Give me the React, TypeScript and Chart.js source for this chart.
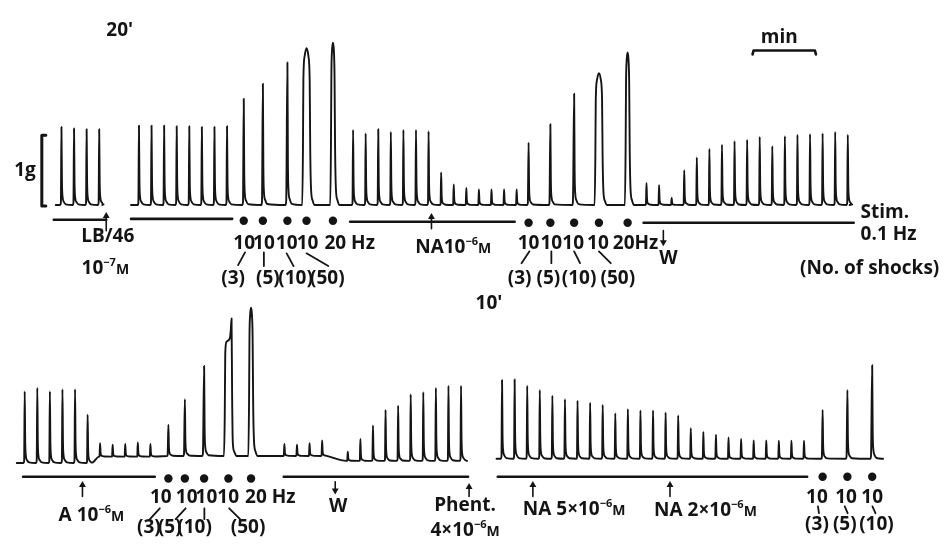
import { useEffect, useRef } from "react";
import { Chart, registerables } from "chart.js";
Chart.register(...registerables);

// ---------------- data: time in s, tension in g ----------------
const PERIOD = 10; // field stimulation 0.1 Hz

// stimulus trains: frequency (Hz) and number of shocks
const STIM_FREQ = [10, 10, 10, 10, 20];
const STIM_SHOCKS = [3, 5, 10, 50, 50];
const STIM_FREQ_SHORT = [10, 10, 10];
const STIM_SHOCKS_SHORT = [3, 5, 10];

// upper record
const TOP_LB_START = 45.5;
const TOP_LB_AMPS = [1.1, 1.08, 1.07, 1.07];
const TOP_CTRL_START = 107.1;
const TOP_CTRL_AMPS = [1.12, 1.12, 1.12, 1.11, 1.11, 1.1, 1.1, 1.11];
const TOP_STIM1_TIMES = [190.4, 205.6, 225.1, 240.3, 261.3];
const TOP_STIM1_AMPS = [1.5, 1.71, 2.01, 2.21, 2.29];
const TOP_NA_START = 277.3;
const TOP_NA_AMPS = [1.06, 1.01, 1.07, 1.03, 1.06, 1.06, 1.04, 0.46, 0.29, 0.24, 0.22, 0.22, 0.22, 0.22];
const TOP_STIM2_TIMES = [416.8, 434.1, 453.0, 472.7, 495.5];
const TOP_STIM2_AMPS = [0.88, 1.14, 1.57, 1.86, 2.15];
const TOP_W_START = 510.5;
const TOP_W_AMPS = [0.31, 0.28, 0.1, 0.49, 0.67, 0.79, 0.85, 0.9, 0.92, 0.96, 0.83, 0.97, 0.99, 1.0, 1.01, 1.03, 0.99];

// lower left record
const BL_CTRL_START = 16.3;
const BL_CTRL_AMPS = [1.01, 1.06, 1.01, 1.04, 1.04, 0.68];
const BL_A_START = 76.2;
const BL_A_AMPS = [0.19, 0.17, 0.18, 0.2, 0.18];
const BL_STIM_TIMES = [130.5, 143.6, 158.9, 180.7, 196.2];
const BL_STIM_AMPS = [0.44, 0.8, 1.27, 1.94, 2.09];
const BL_STIM_SHOULDER = [0, 0, 0, 1.61, 0];
const BL_PREW_START = 222.7;
const BL_PREW_AMPS = [0.17, 0.16, 0.18, 0.22];
const BL_W_START = 273.1;
const BL_W_AMPS = [0.13, 0.31, 0.5, 0.72, 0.78, 0.94, 0.97, 1.03, 1.06, 1.06];
// baseline level of each part: ctrl, A, stim, pre-W, W
const BL_BASELINES = [0, 0.09, 0.1, 0.1, 0.03];

// lower right record
const BR_NA_START = 395.7;
const BR_NA_AMPS = [1.11, 1.12, 1.03, 0.97, 0.89, 0.84, 0.82, 0.79, 0.76, 0.64, 0.7, 0.68, 0.68, 0.65, 0.61, 0.43, 0.38, 0.34, 0.3, 0.28, 0.26, 0.26, 0.255, 0.255, 0.255];
const BR_STIM_TIMES = [650.5, 670.2, 689.9];
const BR_STIM_AMPS = [0.69, 0.97, 1.32];
const BR_BASELINE = 0.06;

// record extents (s)
const TOP_SEG1 = [41, 78];
const TOP_SEG2 = [100.8, 672];
const BL_SEG = [10, 367.9];
const BR_SEG = [391.3, 698.6];

// ---------------- layout ----------------
const W = 952;
const H = 545;
const X_MAX = 750;
const Y_MIN = -1.0972;
const Y_MAX = 6.4722;
const TOP_ROW = 3.64;
const INK = "#141414";
const FONT = '"Open Sans", "DejaVu Sans", sans-serif';

type Pt = { x: number; y: number | null };
type Ev = { t: number; a: number; d: number; b: number; sh: number };

function train(start: number, amps: number[], base: number): Ev[] {
  return amps.map((a, i) => ({ t: start + i * PERIOD, a, d: 0, b: base, sh: 0 }));
}
function stims(times: number[], amps: number[], shocks: number[], freq: number[], base: number, shoulder?: number[]): Ev[] {
  return times.map((t, i) => ({ t, a: amps[i], d: shocks[i] / freq[i], b: base, sh: shoulder ? shoulder[i] : 0 }));
}

function trace(seg: number[], row: number, evs: Ev[]): Pt[] {
  const e0 = [...evs].sort((p, q) => p.t - q.t);
  const pts: Pt[] = [{ x: seg[0], y: row + e0[0].b }];
  let last = e0[0].b;
  for (const e of e0) {
    const b = row + e.b;
    const a = e.a;
    if (e.sh > 0) {
      const ts = e.t - e.d;
      const s = e.sh;
      pts.push(
        { x: ts - 1.0, y: b },
        { x: ts - 0.4, y: b + 0.35 * s },
        { x: ts, y: b + 0.9 * s },
        { x: ts + 1.0, y: b + s },
        { x: e.t - 1.4, y: b + 1.03 * s },
        { x: e.t - 0.6, y: b + 0.5 * (s + a) },
        { x: e.t, y: b + a },
        { x: e.t + 0.45, y: b + 0.45 * a },
        { x: e.t + 1.0, y: b + 0.1 * a },
        { x: e.t + 2.2, y: b + 0.03 * a },
        { x: e.t + 3.8, y: b }
      );
    } else if (e.d >= 1.5) {
      const ts = e.t - e.d / 2;
      const te = e.t + e.d / 2;
      pts.push(
        { x: ts - 0.9, y: b },
        { x: ts - 0.35, y: b + 0.35 * a },
        { x: ts, y: b + 0.8 * a },
        { x: ts + e.d * 0.2, y: b + 0.95 * a },
        { x: e.t, y: b + a },
        { x: te - e.d * 0.2, y: b + 0.95 * a },
        { x: te, y: b + 0.8 * a },
        { x: te + 0.45, y: b + 0.35 * a },
        { x: te + 1.1, y: b + 0.1 * a },
        { x: te + 2.3, y: b + 0.03 * a },
        { x: te + 3.8, y: b }
      );
    } else {
      const r = 0.45 + e.d * 0.5;
      pts.push(
        { x: e.t - r - 0.5, y: b },
        { x: e.t - r, y: b + 0.03 * a },
        { x: e.t, y: b + a },
        { x: e.t + 0.4, y: b + 0.3 * a },
        { x: e.t + 0.9, y: b + 0.1 * a },
        { x: e.t + 1.9, y: b + 0.04 * a },
        { x: e.t + 3.5, y: b + 0.008 * a }
      );
    }
    last = e.b;
  }
  pts.push({ x: seg[1], y: row + last });
  return pts;
}

// ---------------- annotations ----------------
type Label = { s: string; x: number; y: number; align?: "left" | "center" };
const LABELS: Label[] = [
  { s: "20'", x: 91.8, y: 6.125 },
  { s: "1g", x: 16.5, y: 4.139 },
  { s: "min", x: 616.1, y: 6.028 },
  { s: "LB/46", x: 82.3, y: 3.208 },
  { s: "10[−7]{M}", x: 80.4, y: 2.764 },
  { s: "10", x: 190.7, y: 3.111 },
  { s: "10", x: 206.4, y: 3.111 },
  { s: "10", x: 224.5, y: 3.111 },
  { s: "10", x: 241.1, y: 3.111 },
  { s: "20 Hz", x: 274.6, y: 3.111 },
  { s: "(3)", x: 182.0, y: 2.625 },
  { s: "(5)", x: 209.6, y: 2.625 },
  { s: "(10)", x: 231.6, y: 2.625 },
  { s: "(50)", x: 256.8, y: 2.625 },
  { s: "NA10[−6]{M}", x: 356.9, y: 3.056 },
  { s: "10", x: 416.8, y: 3.111 },
  { s: "10", x: 434.9, y: 3.111 },
  { s: "10", x: 452.2, y: 3.111 },
  { s: "10", x: 471.9, y: 3.111 },
  { s: "20Hz", x: 501.8, y: 3.111 },
  { s: "(3)", x: 409.7, y: 2.625 },
  { s: "(5)", x: 432.5, y: 2.625 },
  { s: "(10)", x: 456.9, y: 2.625 },
  { s: "(50)", x: 487.7, y: 2.625 },
  { s: "W", x: 527.9, y: 2.903 },
  { s: "Stim.", x: 680.7, y: 3.556, align: "left" },
  { s: "0.1 Hz", x: 680.7, y: 3.236, align: "left" },
  { s: "(No. of shocks)", x: 632.6, y: 2.764, align: "left" },
  { s: "10'", x: 385.3, y: 2.264 },
  { s: "A 10[−6]{M}", x: 69.3, y: -0.722 },
  { s: "10", x: 124.5, y: -0.472 },
  { s: "10", x: 145.0, y: -0.472 },
  { s: "10", x: 160.7, y: -0.472 },
  { s: "10", x: 178.0, y: -0.472 },
  { s: "20 Hz", x: 211.5, y: -0.472 },
  { s: "(3)", x: 115.0, y: -0.889 },
  { s: "(5)", x: 131.6, y: -0.889 },
  { s: "(10)", x: 151.3, y: -0.889 },
  { s: "(50)", x: 193.8, y: -0.889 },
  { s: "W", x: 265.5, y: -0.597 },
  { s: "Phent.", x: 366.3, y: -0.583 },
  { s: "4×10[−6]{M}", x: 366.3, y: -0.931 },
  { s: "NA 5×10[−6]{M}", x: 453.0, y: -0.639 },
  { s: "NA 2×10[−6]{M}", x: 557.4, y: -0.653 },
  { s: "10", x: 646.0, y: -0.472 },
  { s: "10", x: 669.1, y: -0.472 },
  { s: "10", x: 689.9, y: -0.472 },
  { s: "(3)", x: 646.0, y: -0.843 },
  { s: "(5)", x: 668.1, y: -0.843 },
  { s: "(10)", x: 693.3, y: -0.843 },
];

const UNDERLINES = [
  [39.4, 81.1, 3.431],
  [100.8, 181.2, 3.444],
  [275.0, 405.7, 3.403],
  [508.2, 675.2, 3.389],
  [15.0, 119.7, -0.194],
  [222.2, 368.7, -0.194],
  [392.3, 638.2, -0.194],
];
// x, tail y, head y
const ARROWS = [
  [81.1, 3.278, 3.528],
  [339.6, 3.306, 3.514],
  [523.9, 3.278, 3.069],
  [62.2, -0.472, -0.264],
  [263.1, -0.264, -0.431],
  [369.5, -0.472, -0.292],
  [420.2, -0.472, -0.264],
  [529.2, -0.472, -0.264],
];
const CONNECTORS = [
  [191.4, 2.972, 185.9, 2.792],
  [206.4, 2.972, 206.4, 2.778],
  [224.5, 2.958, 230.0, 2.778],
  [240.3, 2.958, 257.6, 2.778],
  [417.5, 2.986, 411.2, 2.819],
  [434.9, 2.986, 434.9, 2.819],
  [453.0, 2.986, 457.7, 2.819],
  [472.7, 2.986, 482.1, 2.819],
  [123.7, -0.639, 115.8, -0.792],
  [144.2, -0.639, 136.3, -0.792],
  [159.1, -0.639, 159.1, -0.792],
  [178.8, -0.639, 187.5, -0.792],
  [646.8, -0.611, 647.6, -0.708],
  [668.1, -0.611, 670.4, -0.708],
  [690.1, -0.611, 692.5, -0.708],
];

function drawRich(ctx: CanvasRenderingContext2D, s: string, x: number, y: number, align: string) {
  const re = /\[([^\]]*)\]|\{([^}]*)\}|([^\[\{]+)/g;
  const parts: { t: string; k: number }[] = [];
  let m: RegExpExecArray | null;
  while ((m = re.exec(s))) {
    if (m[1] !== undefined) parts.push({ t: m[1], k: 1 });
    else if (m[2] !== undefined) parts.push({ t: m[2], k: 2 });
    else parts.push({ t: m[3], k: 0 });
  }
  const sizes = [19, 11, 14];
  const fontOf = (k: number) => `700 ${sizes[k]}px ${FONT}`;
  let total = 0;
  const widths = parts.map((p) => {
    ctx.font = fontOf(p.k);
    const w = ctx.measureText(p.t).width;
    total += w;
    return w;
  });
  let cx = align === "left" ? x : x - total / 2;
  const base = y + 19 * 0.36;
  ctx.textBaseline = "alphabetic";
  ctx.textAlign = "left";
  parts.forEach((p, i) => {
    ctx.font = fontOf(p.k);
    const by = p.k === 1 ? base - 19 * 0.42 : base;
    ctx.fillText(p.t, cx, by);
    cx += widths[i];
  });
}

const textPlugin = {
  id: "recordLabels",
  afterDatasetsDraw(chart: any) {
    const { ctx, scales } = chart;
    ctx.save();
    ctx.fillStyle = INK;
    for (const L of LABELS) {
      drawRich(ctx, L.s, scales.x.getPixelForValue(L.x), scales.y.getPixelForValue(L.y), L.align || "center");
    }
    ctx.restore();
  },
};

function lineSet(data: Pt[], width: number, smooth = false) {
  return {
    type: "line" as const,
    data,
    borderColor: INK,
    borderWidth: width,
    pointRadius: 0,
    fill: false,
    spanGaps: false,
    tension: 0,
    cubicInterpolationMode: smooth ? ("monotone" as const) : ("default" as const),
    clip: false as any,
  };
}

function buildDatasets() {
  const top1 = trace(TOP_SEG1, TOP_ROW, train(TOP_LB_START, TOP_LB_AMPS, 0));
  const top2 = trace(TOP_SEG2, TOP_ROW, [
    ...train(TOP_CTRL_START, TOP_CTRL_AMPS, 0),
    ...stims(TOP_STIM1_TIMES, TOP_STIM1_AMPS, STIM_SHOCKS, STIM_FREQ, 0),
    ...train(TOP_NA_START, TOP_NA_AMPS, 0),
    ...stims(TOP_STIM2_TIMES, TOP_STIM2_AMPS, STIM_SHOCKS, STIM_FREQ, 0),
    ...train(TOP_W_START, TOP_W_AMPS, 0),
  ]);
  const bl = trace(BL_SEG, 0, [
    ...train(BL_CTRL_START, BL_CTRL_AMPS, BL_BASELINES[0]),
    ...train(BL_A_START, BL_A_AMPS, BL_BASELINES[1]),
    ...stims(BL_STIM_TIMES, BL_STIM_AMPS, STIM_SHOCKS, STIM_FREQ, BL_BASELINES[2], BL_STIM_SHOULDER),
    ...train(BL_PREW_START, BL_PREW_AMPS, BL_BASELINES[3]),
    ...train(BL_W_START, BL_W_AMPS, BL_BASELINES[4]),
  ]);
  const br = trace(BR_SEG, 0, [
    ...train(BR_NA_START, BR_NA_AMPS, BR_BASELINE),
    ...stims(BR_STIM_TIMES, BR_STIM_AMPS, STIM_SHOCKS_SHORT, STIM_FREQ_SHORT, BR_BASELINE),
  ]);

  const under: Pt[] = [];
  UNDERLINES.forEach(([a, b, y]) => under.push({ x: a, y }, { x: b, y }, { x: b, y: null }));
  const conn: Pt[] = [];
  CONNECTORS.forEach(([a, y0, b, y1]) => conn.push({ x: a, y: y0 }, { x: b, y: y1 }, { x: b, y: null }));
  const shafts: Pt[] = [];
  const heads: Pt[] = [];
  const rot: number[] = [];
  ARROWS.forEach(([x, y0, y1]) => {
    const up = y1 > y0;
    shafts.push({ x, y: y0 }, { x, y: up ? y1 - 0.05 : y1 + 0.05 }, { x, y: null });
    heads.push({ x, y: up ? y1 - 0.045 : y1 + 0.045 });
    rot.push(up ? 0 : 180);
  });
  const bracket: Pt[] = [
    { x: 33.1, y: 4.625 },
    { x: 29.9, y: 4.625 },
    { x: 29.9, y: 3.625 },
    { x: 33.1, y: 3.625 },
  ];
  const minBar: Pt[] = [
    { x: 594.8, y: 5.764 },
    { x: 595.6, y: 5.819 },
    { x: 644.4, y: 5.819 },
    { x: 645.2, y: 5.764 },
  ];

  const dots: Pt[] = [
    ...TOP_STIM1_TIMES.map((t) => ({ x: t, y: 3.417 })),
    ...TOP_STIM2_TIMES.map((t) => ({ x: t, y: 3.389 })),
    ...BL_STIM_TIMES.map((t, i) => ({ x: BL_STIM_SHOULDER[i] > 0 ? t - STIM_SHOCKS[i] / STIM_FREQ[i] / 2 : t, y: -0.218 })),
    ...BR_STIM_TIMES.map((t) => ({ x: t, y: -0.194 })),
  ];

  return [
    lineSet(top1, 1.9, true),
    lineSet(top2, 1.9, true),
    lineSet(bl, 1.9, true),
    lineSet(br, 1.9, true),
    lineSet(under, 2.6),
    lineSet(conn, 1.8),
    lineSet(shafts, 1.6),
    lineSet(bracket, 3),
    lineSet(minBar, 2.6),
    {
      type: "scatter" as const,
      data: heads,
      pointStyle: "triangle",
      pointRadius: 4,
      pointRotation: rot,
      backgroundColor: INK,
      borderColor: INK,
      borderWidth: 0,
      showLine: false,
      clip: false as any,
    },
    {
      type: "scatter" as const,
      data: dots,
      pointStyle: "circle",
      pointRadius: 4.2,
      backgroundColor: INK,
      borderColor: INK,
      borderWidth: 0,
      showLine: false,
      clip: false as any,
    },
  ];
}

export default function App() {
  const ref = useRef<HTMLCanvasElement>(null);
  useEffect(() => {
    if (!ref.current) return;
    const chart = new Chart(ref.current, {
      type: "line",
      data: { datasets: buildDatasets() as any },
      options: {
        animation: false,
        responsive: false,
        devicePixelRatio: 1,
        events: [],
        layout: { padding: 0 },
        plugins: {
          legend: { display: false },
          tooltip: { enabled: false },
          title: { display: false },
        },
        scales: {
          x: { type: "linear", min: 0, max: X_MAX, display: false },
          y: { type: "linear", min: Y_MIN, max: Y_MAX, display: false },
        },
        elements: {
          line: { borderCapStyle: "round", borderJoinStyle: "round" },
        },
      },
      plugins: [textPlugin],
    });
    return () => chart.destroy();
  }, []);
  return (
    <div style={{ position: "fixed", left: 0, top: 0, width: W, height: H, background: "#fff" }}>
      <canvas ref={ref} width={W} height={H} style={{ display: "block", width: W, height: H }} />
    </div>
  );
}
